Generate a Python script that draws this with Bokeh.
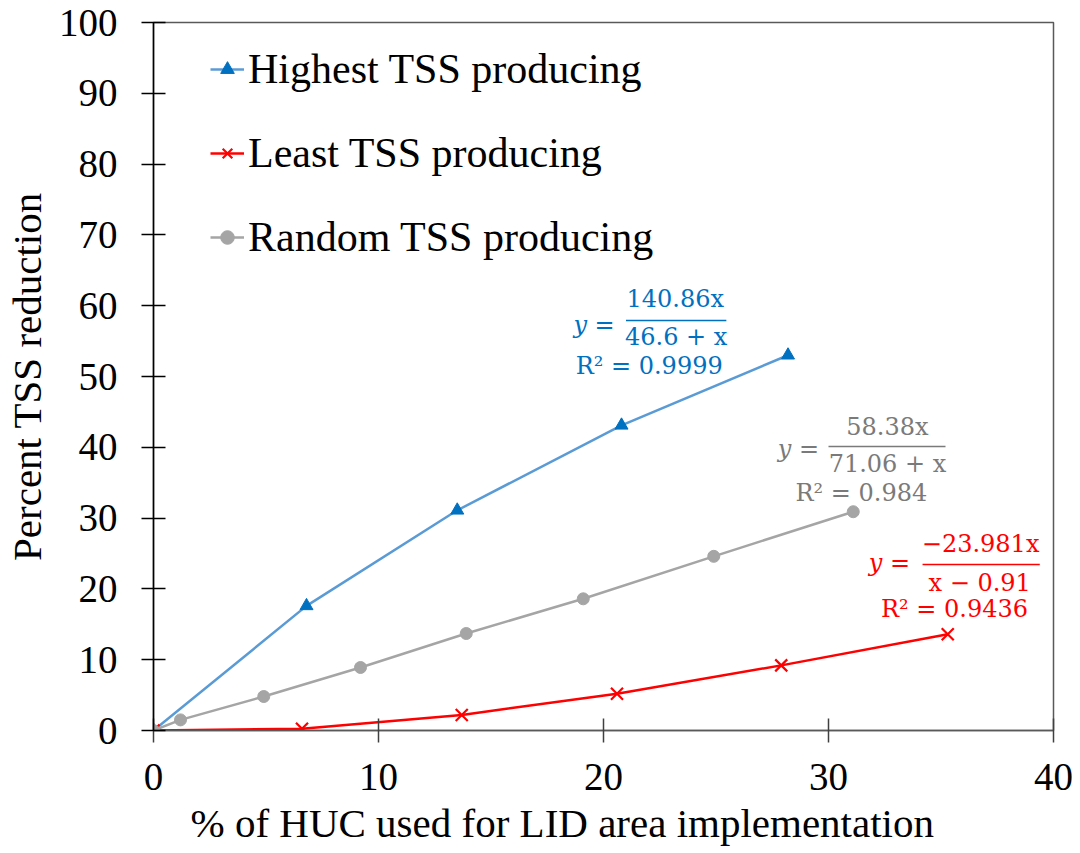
from bokeh.plotting import figure
from bokeh.models import Range1d, FixedTicker, Legend, LegendItem, Label, Title
from bokeh.embed import file_html
from bokeh.resources import INLINE

# ---- data ----
hi_x = [0, 6.8, 13.5, 20.8, 28.2]
hi_y = [0, 17.6, 31.1, 43.1, 53.0]
lo_x = [0, 6.6, 13.7, 20.6, 27.9, 35.3]
lo_y = [0, 0.25, 2.2, 5.2, 9.2, 13.6]
rd_x = [0, 1.2, 4.9, 9.2, 13.9, 19.1, 24.9, 31.1]
rd_y = [0, 1.5, 4.8, 8.9, 13.7, 18.6, 24.6, 30.9]

series_names = ["Highest TSS producing", "Least TSS producing", "Random TSS producing"]
x_ticks = [0, 10, 20, 30, 40]
y_ticks = [0, 10, 20, 30, 40, 50, 60, 70, 80, 90, 100]
x_title = "% of HUC used for LID area implementation"
y_title = "Percent TSS reduction"

# fitted equation texts: (lhs, numerator, denominator, r2)
eq_texts = [
    ("y =", "140.86x", "46.6 + x", "R\u00b2 = 0.9999"),
    ("y =", "58.38x", "71.06 + x", "R\u00b2 = 0.984"),
    ("y =", "\u221223.981x", "x \u2212 0.91", "R\u00b2 = 0.9436"),
]
# annotation anchors (data coords): lhs, numerator, bar (x0, x1, y), denominator, r2
eq_pos = [
    dict(lhs=(19.58, 57.3), num=(23.19, 61.0), bar=(21.0, 25.46, 57.9), den=(23.23, 55.6), r2=(22.03, 51.5)),
    dict(lhs=(28.66, 39.7), num=(32.62, 42.9), bar=(30.0, 35.2, 40.1), den=(32.62, 37.6), r2=(31.46, 33.6)),
    dict(lhs=(32.71, 23.6), num=(36.76, 26.3), bar=(34.18, 39.39, 23.45), den=(36.72, 20.9), r2=(35.6, 17.2)),
]

# ---- styles ----
line_cols = ["#5B9BD5", "#FF0000", "#A5A5A5"]
mark_cols = ["#0070C0", "#FF0000", "#A5A5A5"]
text_cols = ["#0070C0", "#7A7A7A", "#FF0000"]
SERIF = "Liberation Serif"
EQF = "DejaVu Serif"

p = figure(width=1080, height=853,
           x_range=Range1d(0, 40), y_range=Range1d(0, 100),
           output_backend="svg", toolbar_location=None,
           min_border_left=153, min_border_right=27,
           min_border_top=22, min_border_bottom=123)
p.background_fill_color = "white"
p.border_fill_color = "white"
p.grid.visible = False
p.outline_line_color = "#595959"
p.outline_line_width = 1.5

p.xaxis.ticker = FixedTicker(ticks=x_ticks)
p.yaxis.ticker = FixedTicker(ticks=y_ticks)
for ax in (p.xaxis, p.yaxis):
    ax.major_tick_in = 12
    ax.major_tick_out = 12
    ax.minor_tick_in = 0
    ax.minor_tick_out = 0
    ax.major_label_text_font = SERIF
    ax.major_label_text_font_size = "39px"
    ax.major_label_text_color = "black"
    ax.axis_line_width = 1.5
    ax.major_tick_line_width = 1.5
p.yaxis.axis_line_color = "black"
p.yaxis.major_tick_line_color = "black"
p.xaxis.axis_line_color = "#595959"
p.xaxis.major_tick_line_color = "#404040"
p.yaxis.major_label_standoff = 24
p.xaxis.major_label_standoff = 21

p.yaxis.axis_label = y_title
p.yaxis.axis_label_text_font = SERIF
p.yaxis.axis_label_text_font_size = "41px"
p.yaxis.axis_label_text_font_style = "normal"
p.yaxis.axis_label_text_color = "black"
p.yaxis.axis_label_standoff = 6

xt = Title(text=x_title, align="left", offset=37, standoff=11,
           text_font=SERIF, text_font_size="41px", text_font_style="normal",
           text_color="black")
p.add_layout(xt, "below")

xs = [hi_x, lo_x, rd_x]
ys = [hi_y, lo_y, rd_y]
markers = ["triangle", "x", "circle"]
sizes = [13, 17, 12]
items = []
for i in range(3):
    lr = p.line(xs[i], ys[i], line_color=line_cols[i], line_width=2.5)
    if markers[i] == "x":
        sr = p.scatter(xs[i], ys[i], marker="x", size=sizes[i], line_color=mark_cols[i], line_width=2.2)
    else:
        sr = p.scatter(xs[i], ys[i], marker=markers[i], size=sizes[i],
                       fill_color=mark_cols[i], line_color=mark_cols[i], line_width=1)
    items.append(LegendItem(label=series_names[i], renderers=[lr, sr]))

legend = Legend(items=items, location=(57, 467), orientation="vertical",
                label_text_font=SERIF, label_text_font_size="42px",
                label_text_color="black",
                glyph_width=34, glyph_height=52, label_height=52,
                label_standoff=4, spacing=32, padding=0, margin=0,
                border_line_color=None, background_fill_alpha=0)
p.add_layout(legend, "center")

# equations
for i in range(3):
    lhs, num, den, r2 = eq_texts[i]
    pos = eq_pos[i]
    col = text_cols[i]
    p.add_layout(Label(x=pos["lhs"][0], y=pos["lhs"][1], text=lhs, text_align="center",
                       text_baseline="middle", text_font=EQF, text_font_style="italic",
                       text_font_size="24px", text_color=col))
    p.add_layout(Label(x=pos["num"][0], y=pos["num"][1], text=num, text_align="center",
                       text_baseline="middle", text_font=EQF, text_font_size="24px", text_color=col))
    p.add_layout(Label(x=pos["den"][0], y=pos["den"][1], text=den, text_align="center",
                       text_baseline="middle", text_font=EQF, text_font_size="24px", text_color=col))
    p.add_layout(Label(x=pos["r2"][0], y=pos["r2"][1], text=r2, text_align="center",
                       text_baseline="middle", text_font=EQF, text_font_size="24px", text_color=col))
    b = pos["bar"]
    p.segment(x0=[b[0]], y0=[b[2]], x1=[b[1]], y1=[b[2]], line_color=col, line_width=1.5)

open("out.html", "w").write(file_html(p, INLINE))
